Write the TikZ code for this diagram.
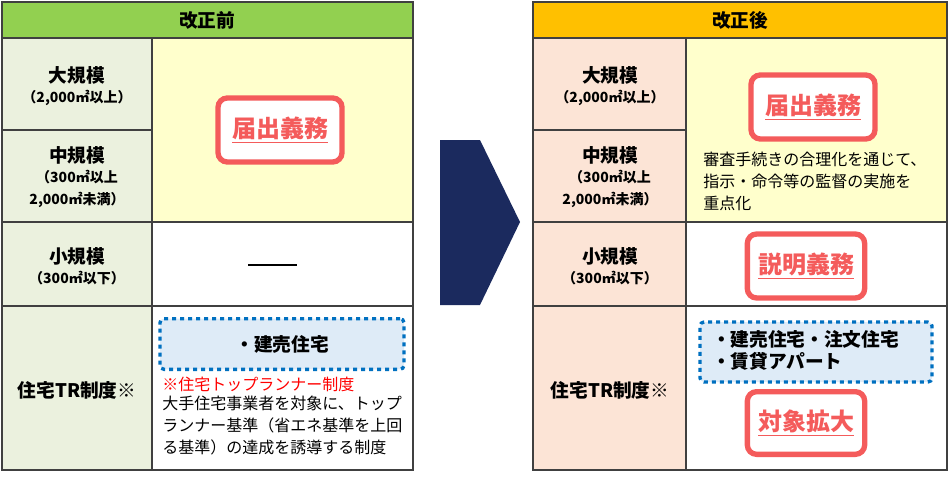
\documentclass[tikz,border=0pt]{standalone}
\usepackage{fontspec}
\setmainfont{Noto Sans CJK JP}
\usetikzlibrary{calc,positioning}
\definecolor{hdgreen}{HTML}{92D050}
\definecolor{hdorange}{HTML}{FFC000}
\definecolor{lblgreen}{HTML}{EBF1DE}
\definecolor{lblpeach}{HTML}{FCE4D6}
\definecolor{cellyel}{HTML}{FFFFCC}
\definecolor{dutyred}{HTML}{F45B5B}
\definecolor{trblue}{HTML}{0070C0}
\definecolor{trfill}{HTML}{DEEBF7}
\definecolor{navy}{HTML}{1B2A5E}
\definecolor{gridgray}{HTML}{404040}
\newcommand{\subsz}{\fontsize{10.5}{12.5}\selectfont}
\tikzset{
  grid/.style={draw=gridgray,line width=1.2pt},
  lbl/.style={font=\bfseries\fontsize{14}{16}\selectfont,align=center},
  duty/.style={draw=dutyred,line width=4pt,rounded corners=7pt,fill=white,
    text=dutyred,font=\bfseries\fontsize{18}{20}\selectfont,inner sep=0pt},
  trbox/.style={draw=trblue,line width=2.5pt,dash pattern=on 3pt off 3pt,
    fill=trfill,rounded corners=3pt},
  body/.style={font=\fontsize{12}{16.5}\selectfont,align=left,anchor=north west,inner sep=0pt}
}
\begin{document}
\begin{tikzpicture}[x=0.75pt,y=-0.75pt]
  \useasboundingbox (0,0) rectangle (950,485);

  % before
  \fill[hdgreen] (2,2) rectangle (413,38);
  \fill[lblgreen] (2,38) rectangle (152,470);
  \fill[cellyel] (152,38) rectangle (413,222);
  \foreach \y in {38,222,306} \draw[grid] (2,\y) -- (413,\y);
  \draw[grid] (2,130) -- (152,130);
  \draw[grid] (2,2) rectangle (413,470);
  \draw[grid] (152,38) -- (152,470);

  \node[lbl] (b_head) at (207,20) {改正前};
  \node[lbl] (b_large) at (77,86) {大規模\\[-1pt]\subsz （2,000㎡以上）};
  \node[lbl] (b_mid) at (77,177) {中規模\\[-1pt]\subsz （300㎡以上\\\subsz 2,000㎡未満）};
  \node[lbl] (b_small) at (77,266) {小規模\\[-1pt]\subsz （300㎡以下）};
  \node[lbl] (b_tr) at (77,390) {住宅TR制度※};
  \node[duty,minimum width=93pt,minimum height=48pt] (b_report) at (280,130) {\underline{届出義務}};
  \coordinate (dash_l) at (248,265);
  \coordinate (dash_r) at (297,265);
  \draw[line width=1.2pt] (dash_l) -- (dash_r);
  \node[trbox,minimum width=183pt,minimum height=38pt] (b_trbox) at (282,344)
    {\bfseries\fontsize{14}{16}\selectfont ・建売住宅};
  \node[body,text=red] (b_note) at (162,377) {※住宅トップランナー制度};
  \node[body] (b_desc) at ($(b_note.south west)+(0,3)$)
    {大手住宅事業者を対象に、トップ\\ランナー基準（省エネ基準を上回\\る基準）の達成を誘導する制度};

  % arrow
  \fill[navy] (440,140) -- (480,140) -- (520,222) -- (480,305) -- (440,305) -- cycle;

  % after
  \fill[hdorange] (533,2) rectangle (947,38);
  \fill[lblpeach] (533,38) rectangle (686,470);
  \fill[cellyel] (686,38) rectangle (947,222);
  \foreach \y in {38,222,306} \draw[grid] (533,\y) -- (947,\y);
  \draw[grid] (533,130) -- (686,130);
  \draw[grid] (533,2) rectangle (947,470);
  \draw[grid] (686,38) -- (686,470);

  \node[lbl] (a_head) at (740,20) {改正後};
  \node[lbl] (a_large) at (610,86) {大規模\\[-1pt]\subsz （2,000㎡以上）};
  \node[lbl] (a_mid) at (610,177) {中規模\\[-1pt]\subsz （300㎡以上\\\subsz 2,000㎡未満）};
  \node[lbl] (a_small) at (610,266) {小規模\\[-1pt]\subsz （300㎡以下）};
  \node[lbl] (a_tr) at (610,390) {住宅TR制度※};
  \node[duty,minimum width=93pt,minimum height=48pt] (a_report) at (813,107) {\underline{届出義務}};
  \node[body] (a_desc) at (703,152)
    {審査手続きの合理化を通じて、\\指示・命令等の監督の実施を\\重点化};
  \node[duty,minimum width=88pt,minimum height=48pt] (a_explain) at (806,266) {\underline{説明義務}};
  \node[trbox,minimum width=174pt,minimum height=45pt] (a_trbox) at (816,352) {};
  \node[body,font=\bfseries\fontsize{14}{17}\selectfont] (a_trtext) at (712,330)
    {・建売住宅・注文住宅\\・賃貸アパート};
  \node[duty,minimum width=88pt,minimum height=47pt] (a_expand) at (806,423) {\underline{対象拡大}};
\end{tikzpicture}
\end{document}
